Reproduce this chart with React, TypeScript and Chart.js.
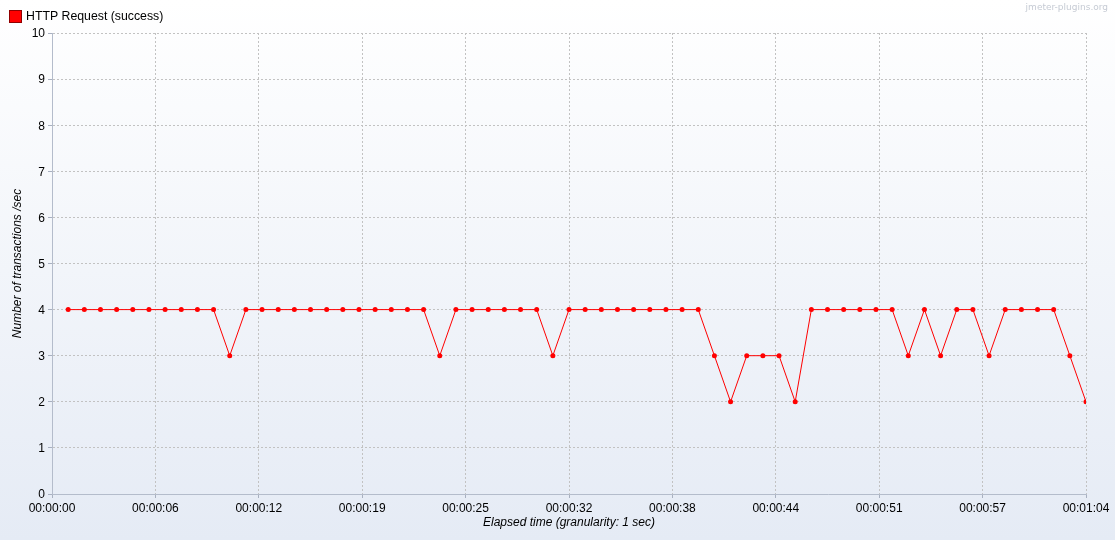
import React, { useEffect, useRef } from "react";
import { Chart, registerables } from "chart.js";

Chart.register(...registerables);

const seconds: number[] = Array.from({ length: 64 }, (_, i) => i + 1);
const transactions: number[] = [
  4, 4, 4, 4, 4, 4, 4, 4, 4, 4,
  3, 4, 4, 4, 4, 4, 4, 4, 4, 4,
  4, 4, 4, 3, 4, 4, 4, 4, 4, 4,
  3, 4, 4, 4, 4, 4, 4, 4, 4, 4,
  3, 2, 3, 3, 3, 2, 4, 4, 4, 4,
  4, 4, 3, 4, 3, 4, 4, 3, 4, 4,
  4, 4, 3, 2,
];
const xTickValues: number[] = [0, 6.4, 12.8, 19.2, 25.6, 32, 38.4, 44.8, 51.2, 57.6, 64];
const xTickLabels: string[] = [
  "00:00:00", "00:00:06", "00:00:12", "00:00:19", "00:00:25", "00:00:32",
  "00:00:38", "00:00:44", "00:00:51", "00:00:57", "00:01:04",
];
const seriesLabel = "HTTP Request (success)";
const watermark = "jmeter-plugins.org";

const FONT = "'Liberation Sans', Arial, sans-serif";

export default function App() {
  const ref = useRef<HTMLCanvasElement | null>(null);

  useEffect(() => {
    document.body.style.margin = "0";
    const canvas = ref.current;
    if (!canvas) return;

    const decor = {
      id: "decor",
      beforeDraw(chart: any) {
        const { ctx, width, height } = chart;
        const g = ctx.createLinearGradient(0, 0, 0, height);
        g.addColorStop(0, "#ffffff");
        g.addColorStop(1, "#e5ebf5");
        ctx.save();
        ctx.fillStyle = g;
        ctx.fillRect(0, 0, width, height);
        ctx.restore();
      },
      afterDraw(chart: any) {
        const { ctx } = chart;
        ctx.save();
        ctx.fillStyle = "#ff0000";
        ctx.fillRect(9, 10, 13, 13);
        ctx.strokeStyle = "#900000";
        ctx.lineWidth = 1;
        ctx.strokeRect(9.5, 10.5, 12, 12);
        ctx.fillStyle = "#000000";
        ctx.font = `12.3px ${FONT}`;
        ctx.textBaseline = "middle";
        ctx.textAlign = "left";
        ctx.fillText(seriesLabel, 26, 17);
        ctx.fillStyle = "#c6cbd4";
        ctx.font = "9px 'DejaVu Sans', sans-serif";
        ctx.textAlign = "right";
        ctx.fillText(watermark, 1108, 8);
        ctx.restore();
      },
    };

    const gridOpts = {
      color: "#c2c2c2",
      tickLength: 4,
      tickColor: "#a8b0c0",
      tickBorderDash: [],
      lineWidth: 1,
    };
    const borderOpts = { display: true, color: "#b4bccb", dash: [2, 2] };

    const chart = new Chart(canvas, {
      type: "line",
      data: {
        datasets: [
          {
            label: seriesLabel,
            data: seconds.map((s, i) => ({ x: s, y: transactions[i] })),
            borderColor: "#ff0000",
            borderWidth: 1,
            pointRadius: 2.5,
            pointBackgroundColor: "#ff0000",
            pointBorderWidth: 0,
            tension: 0,
          },
        ],
      },
      options: {
        responsive: false,
        animation: false,
        layout: { padding: { top: 33, right: 29, left: 0, bottom: 0 } },
        plugins: {
          legend: { display: false },
          tooltip: { enabled: false },
        },
        scales: {
          x: {
            type: "linear",
            min: 0,
            max: 64,
            afterBuildTicks(scale: any) {
              scale.ticks = xTickValues.map((v) => ({ value: v }));
            },
            afterFit(scale: any) {
              scale.height = 46;
            },
            ticks: {
              autoSkip: false,
              maxRotation: 0,
              padding: 3,
              color: "#000000",
              font: { family: FONT, size: 12 },
              callback: (_v: any, i: number) => xTickLabels[i],
            },
            grid: gridOpts,
            border: borderOpts,
            title: {
              display: true,
              text: "Elapsed time (granularity: 1 sec)",
              color: "#000000",
              font: { family: FONT, size: 12, style: "italic" },
              padding: { top: 0, bottom: 10 },
            },
          },
          y: {
            min: 0,
            max: 10,
            afterFit(scale: any) {
              scale.width = 52;
            },
            ticks: {
              stepSize: 1,
              padding: 3,
              labelOffset: 1,
              color: "#000000",
              font: { family: FONT, size: 12 },
            },
            grid: gridOpts,
            border: borderOpts,
            title: {
              display: true,
              text: "Number of transactions /sec",
              color: "#000000",
              font: { family: FONT, size: 12, style: "italic" },
              padding: { top: 10, bottom: 0 },
            },
          },
        },
      },
      plugins: [decor],
    } as any);

    return () => chart.destroy();
  }, []);

  return <canvas ref={ref} width={1115} height={540} style={{ display: "block" }} />;
}
